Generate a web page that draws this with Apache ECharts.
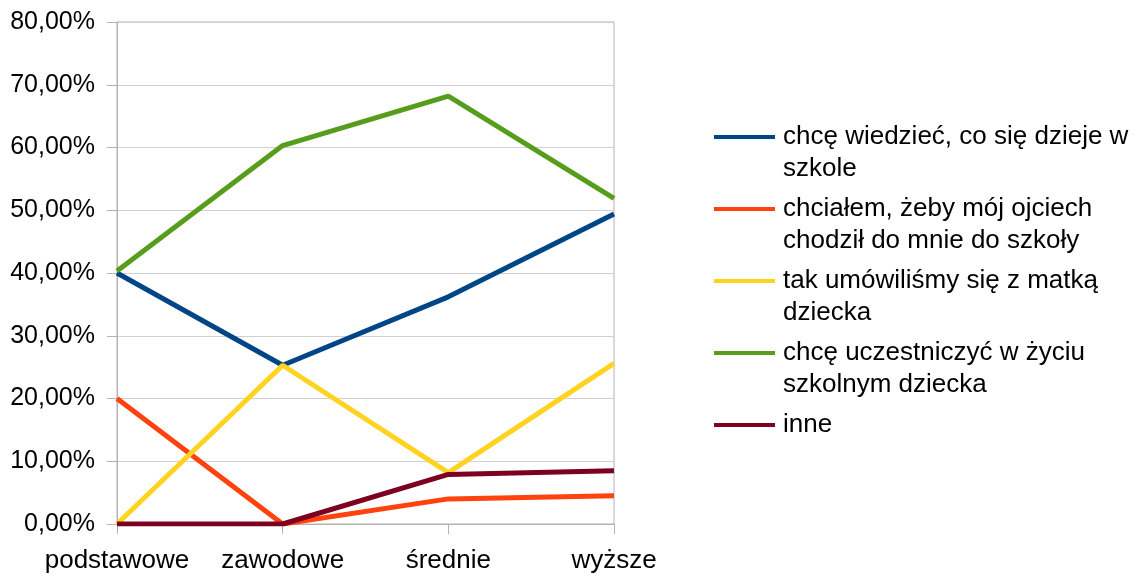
<!DOCTYPE html>
<html>
<head>
<meta charset="utf-8">
<script src="https://cdn.jsdelivr.net/npm/echarts@6/dist/echarts.min.js"></script>
<style>
  html, body { margin: 0; padding: 0; background: #fff; }
  #chart { width: 1143px; height: 576px; }
</style>
</head>
<body>
<div id="chart"></div>
<script>
// categories (education level)
var categories = ['podstawowe', 'zawodowe', 'średnie', 'wyższe'];

// series names as shown in the legend (with line breaks)
var names = [
    'chcę wiedzieć, co się dzieje w\nszkole',
    'chciałem, żeby mój ojciech\nchodził do mnie do szkoły',
    'tak umówiliśmy się z matką\ndziecka',
    'chcę uczestniczyć w życiu\nszkolnym dziecka',
    'inne'
];

// values in percent
var wiedziec     = [40.0, 25.3, 36.2, 49.4];
var ojciec       = [20.0, 0.0, 4.0, 4.5];
var matka        = [0.0, 25.3, 8.2, 25.6];
var uczestniczyc = [40.3, 60.3, 68.2, 51.9];
var inne         = [0.0, 0.0, 7.9, 8.5];

var colors = ['#004586', '#ff420e', '#ffd320', '#579d1c', '#7e0021'];
var values = [wiedziec, ojciec, matka, uczestniczyc, inne];

var series = [];
for (var i = 0; i < names.length; i++) {
    series.push({
        name: names[i],
        type: 'line',
        data: values[i],
        showSymbol: false,
        symbol: 'none',
        lineStyle: { width: 5, color: colors[i] },
        itemStyle: { color: colors[i] }
    });
}

var chart = echarts.init(document.getElementById('chart'));
chart.setOption({
    animation: false,
    color: colors,
    textStyle: { fontFamily: 'Liberation Sans' },
    grid: {
        left: 117, top: 22, right: 529, bottom: 52, containLabel: false,
        show: true, borderColor: '#b3b3b3', borderWidth: 1
    },
    legend: {
        orient: 'vertical',
        left: 709,
        top: 84,
        icon: 'rect',
        itemWidth: 61,
        itemHeight: 4,
        itemGap: -24,
        data: names,
        // pad every entry to three lines so the icon sits on the first text line
        formatter: function (n) {
            return n.indexOf('\n') >= 0 ? ' \n' + n : ' \n' + n + '\n ';
        },
        textStyle: { fontSize: 26, lineHeight: 32, color: '#000', padding: [0, 0, 0, 3], fontFamily: 'Liberation Sans' }
    },
    xAxis: {
        type: 'category',
        data: categories,
        boundaryGap: false,
        axisLine: { lineStyle: { color: '#b3b3b3', width: 1 } },
        axisTick: { show: true, length: 10, lineStyle: { color: '#b3b3b3' } },
        axisLabel: { fontSize: 26, color: '#000', margin: 24, interval: 0, fontFamily: 'Liberation Sans' },
        splitLine: { show: false }
    },
    yAxis: {
        type: 'value',
        min: 0,
        max: 80,
        interval: 10,
        axisLine: { show: true, lineStyle: { color: '#b3b3b3', width: 1 } },
        axisTick: { show: true, length: 10, lineStyle: { color: '#b3b3b3' } },
        axisLabel: {
            fontSize: 25, color: '#000', margin: 22, fontFamily: 'Liberation Sans',
            formatter: function (v) { return v.toFixed(2).replace('.', ',') + '%'; }
        },
        splitLine: { show: true, lineStyle: { color: '#d0d0d0', width: 1 } }
    },
    series: series
});
</script>
</body>
</html>
